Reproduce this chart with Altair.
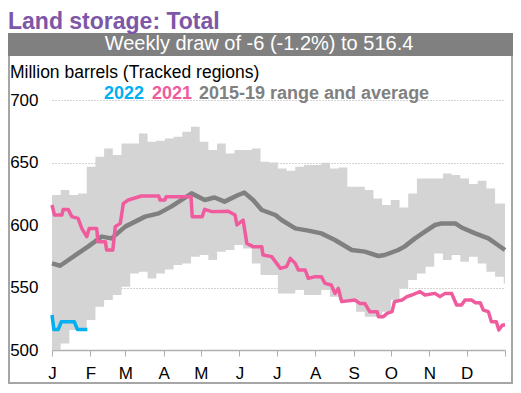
import altair as alt
import pandas as pd

# ---------------- text ----------------
title_text = "Land storage: Total"
banner_text = "Weekly draw of -6 (-1.2%) to 516.4"
unit_text = "Million barrels (Tracked regions)"
legend_2022 = "2022"
legend_2021 = "2021"
legend_range = "2015-19 range and average"

month_letters = ["J", "F", "M", "A", "M", "J", "J", "A", "S", "O", "N", "D", ""]
month_starts = [0, 31, 59, 90, 120, 151, 181, 212, 243, 273, 304, 334, 365]
y_ticks = [500, 550, 600, 650, 700]

# ---------------- data ----------------
# 2015-19 weekly range (one value per week, week k starts on day 7k)
band_upper = [624, 628, 624, 625.3, 646.7, 654.7, 661.3, 656, 665.3, 665.3, 673.3, 666.7, 667.5,
              669.3, 670.7, 674.7, 678.7, 666.7, 660, 665.3, 657.3, 660, 660, 661.3, 650.7, 650,
              645.3, 643.5, 646.7, 648, 648, 649.9, 645.3, 646, 630.7, 630.7, 628, 621.3, 616, 620,
              614, 625.3, 637.3, 637.3, 637.3, 641.3, 640, 637.3, 632.8, 635.5, 629.3, 617.3, 617.3]
band_lower = [500, 505.3, 516, 516, 524, 534.7, 540, 544, 550.7, 561.3, 562.7, 557.3, 561.3,
              564.5, 568, 569.3, 574.7, 576, 572, 578.7, 580, 584, 581.3, 569.3, 560, 560,
              545.3, 545.3, 548, 544, 544, 548, 542.7, 540, 540, 530.7, 526.7, 526.7, 530.7, 540,
              549.3, 556, 561.3, 566.7, 577.3, 572, 576, 570.7, 574.7, 569.3, 562.7, 558.7, 553.3]

# 2015-19 average
avg_day = [0, 6.5, 21, 29, 40, 48, 59, 75, 86, 96, 112.5, 123, 131, 139, 150, 155, 162, 169, 180,
           185, 196, 206.5, 217, 228, 241.5, 252, 263, 268, 279, 284, 292.5, 300.5, 308.6, 314,
           325, 330, 341, 351.6, 365]
avg_val = [569.3, 567.4, 577.3, 582.7, 590.7, 589.3, 598.7, 606.7, 609.3, 614.7, 625.3, 620, 622,
           618.7, 624, 625.9, 620, 612, 608, 604, 597.3, 595.5, 593.3, 588, 580, 578.7, 575.2, 576,
           580, 582.7, 589.3, 594.7, 600, 601.3, 601.3, 598, 593.3, 589.3, 580]

# 2021
y2021_day = [0, 2, 8, 9, 13, 16, 21, 24, 28, 30, 36, 37, 43, 44, 49, 51, 55, 57.5, 61.5, 72, 86,
             87, 91, 92, 107, 112, 113, 121, 123, 129, 142, 147.5, 149, 154, 157, 162, 169, 170,
             177, 184, 189, 192, 196, 198.5, 204, 206.5, 212, 217, 220, 225, 228, 230.7, 233.4,
             244, 248, 252, 256, 262, 263, 267, 270, 274, 276, 282, 286, 290, 296.5, 300.5, 308.6,
             312.6, 316.7, 322, 326, 330, 332.8, 338, 341, 345, 347.5, 351.6, 354, 358, 360, 363,
             365]
y2021_val = [616, 608, 608, 612.5, 612.5, 606.7, 605.3, 597.3, 590.7, 597.3, 597.3, 586.7, 586.7,
             580, 580, 598.7, 601.3, 617.3, 620, 623.2, 623.2, 620, 620, 622.7, 622.7, 622.7, 606.7,
             606.7, 612.5, 610.7, 611, 608, 600, 604, 585.3, 582.7, 582.7, 576, 574.7, 565.3, 566.7,
             573.3, 569.3, 564, 564, 557.3, 558.7, 558.7, 553.3, 552, 545.3, 549.3, 538.7, 540,
             537.3, 537.3, 530.7, 530.7, 526.7, 526.7, 529.3, 530.7, 538.7, 540, 542.7, 544, 546.7,
             544, 545.3, 542.7, 545.3, 545.3, 536, 536, 540, 540, 537.9, 537.9, 532, 530.7, 522.7,
             522.7, 516, 520, 520]

# 2022
y2022_day = [0, 1.5, 5, 7.5, 18, 20.5, 28.5]
y2022_val = [528, 516.4, 516.4, 522.6, 522.6, 516.4, 516.4]

# ---------------- tables ----------------
band_days = [7 * k for k in range(len(band_upper))] + [365]
band_df = pd.DataFrame({"day": band_days,
                        "lower": band_lower + [band_lower[-1]],
                        "upper": band_upper + [band_upper[-1]]})
avg_df = pd.DataFrame({"day": avg_day, "v": avg_val})
d21 = pd.DataFrame({"day": y2021_day, "v": y2021_val})
d22 = pd.DataFrame({"day": y2022_day, "v": y2022_val})
one = pd.DataFrame({"d": [0]})

FONT = "Liberation Sans"
PINK = "#ef5b9d"
BLUE = "#00b0f0"
GREY = "#808080"

label_expr = ("[" + ",".join("'%s'" % m for m in month_letters) + "][indexof(["
              + ",".join(str(v) for v in month_starts) + "], datum.value)]")

xs = alt.Scale(domain=[0, 365], nice=False, zero=False)
ys = alt.Scale(domain=[500, 700], nice=False, zero=False)

x_axis = alt.Axis(
    values=month_starts, labelExpr=label_expr, grid=False, domain=True,
    domainColor="#b0b0b0", domainWidth=1.5, ticks=True, tickColor="#b0b0b0",
    tickSize=6, tickWidth=1, labelFontSize=17, labelColor="black", labelFont=FONT,
    labelPadding=9, labelAngle=0, labelFlush=False, labelOverlap=False,
    labelBound=False, title=None)
y_axis = alt.Axis(
    values=y_ticks, grid=True, gridColor="#a6a6a6", gridDash=[1, 2], gridWidth=1,
    domain=False, ticks=False, labelFontSize=17, labelColor="black", labelFont=FONT,
    labelPadding=14, labelOverlap=False, title=None)

band = alt.Chart(band_df).mark_area(
    interpolate="step-after", color="#d4d4d4", opacity=1
).encode(
    x=alt.X("day:Q", scale=xs, axis=x_axis),
    y=alt.Y("lower:Q", scale=ys, axis=y_axis),
    y2="upper:Q",
)


def series(df, color, width):
    return alt.Chart(df).mark_line(color=color, strokeWidth=width, strokeJoin="round").encode(
        x=alt.X("day:Q", scale=xs, axis=x_axis), y=alt.Y("v:Q", scale=ys, axis=y_axis))


avg_line = series(avg_df, GREY, 4.5)
line21 = series(d21, PINK, 3.5)
line22 = series(d22, BLUE, 3.5)

banner = alt.Chart(one).mark_rect(color="#808080").encode(
    x=alt.value(-44), x2=alt.value(461), y=alt.value(-67), y2=alt.value(-44))


def txt(s, x, y, size, color, weight="normal", align="left"):
    return alt.Chart(one).mark_text(
        text=s, font=FONT, fontSize=size, fontWeight=weight, color=color,
        align=align, baseline="alphabetic").encode(x=alt.value(x), y=alt.value(y))


banner_t = txt(banner_text, 207, -50, 20, "#ffffff", align="center")
title_t = txt(title_text, -44, -71, 23, "#7d56a8", weight="bold")
unit_t = txt(unit_text, -42, -22, 17.5, "black")
leg1 = txt(legend_2022, 52, -1.5, 18, BLUE, weight="bold")
leg2 = txt(legend_2021, 100, -1.5, 18, PINK, weight="bold")
leg3 = txt(legend_range, 147, -1.5, 18, GREY, weight="bold")

BORDER = "#a6a6a6"
left_b = alt.Chart(one).mark_rule(color=BORDER, strokeWidth=2).encode(
    x=alt.value(-43), y=alt.value(-44), y2=alt.value(284))
right_b = alt.Chart(one).mark_rule(color=BORDER, strokeWidth=2).encode(
    x=alt.value(460), y=alt.value(-44), y2=alt.value(284))
bottom_b = alt.Chart(one).mark_rule(color=BORDER, strokeWidth=2).encode(
    x=alt.value(-44), x2=alt.value(461), y=alt.value(283))

chart = alt.layer(
    band, avg_line, line21, line22, banner, title_t, banner_t, unit_t, leg1, leg2, leg3,
    left_b, right_b, bottom_b
).properties(
    width=453, height=250,
    autosize=alt.AutoSizeParams(type="none"),
    padding={"left": 44, "top": 92, "right": 8, "bottom": 35},
).configure_view(strokeWidth=0)

chart.save("out.html", embed_options={"renderer": "svg", "actions": False})
